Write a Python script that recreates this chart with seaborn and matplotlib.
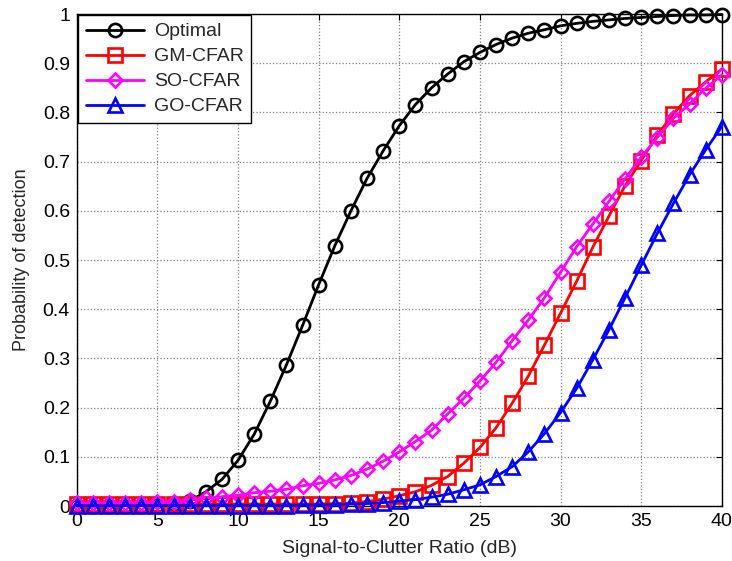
import numpy as np
import pandas as pd
import matplotlib
matplotlib.use("Agg")
import matplotlib.pyplot as plt
import seaborn as sns

snr = list(range(0, 41))
optimal = [0.0, 0.0, 0.0, 0.001, 0.001, 0.002, 0.004, 0.010, 0.029, 0.054, 0.093,
           0.146, 0.213, 0.287, 0.367, 0.450, 0.529, 0.600, 0.666, 0.722, 0.773,
           0.816, 0.850, 0.878, 0.903, 0.922, 0.938, 0.951, 0.961, 0.968, 0.976,
           0.981, 0.985, 0.988, 0.991, 0.993, 0.995, 0.997, 0.998, 0.998, 0.999]
gm_cfar = [0.004, 0.004, 0.004, 0.004, 0.004, 0.004, 0.004, 0.004, 0.004, 0.004, 0.004,
           0.004, 0.004, 0.004, 0.004, 0.004, 0.005, 0.006, 0.009, 0.014, 0.021,
           0.029, 0.042, 0.060, 0.087, 0.119, 0.159, 0.209, 0.264, 0.327, 0.392,
           0.457, 0.526, 0.589, 0.651, 0.702, 0.754, 0.797, 0.834, 0.862, 0.888]
so_cfar = [0.006, 0.006, 0.006, 0.007, 0.007, 0.008, 0.009, 0.012, 0.016, 0.019, 0.022,
           0.027, 0.030, 0.034, 0.041, 0.046, 0.053, 0.062, 0.075, 0.091, 0.110,
           0.131, 0.154, 0.187, 0.219, 0.254, 0.292, 0.336, 0.378, 0.423, 0.475,
           0.527, 0.573, 0.619, 0.665, 0.709, 0.749, 0.788, 0.817, 0.849, 0.876]
go_cfar = [0.001, 0.001, 0.001, 0.001, 0.001, 0.001, 0.001, 0.001, 0.001, 0.001, 0.001,
           0.001, 0.001, 0.001, 0.002, 0.002, 0.003, 0.004, 0.005, 0.007, 0.010,
           0.013, 0.018, 0.024, 0.033, 0.043, 0.060, 0.080, 0.110, 0.147, 0.190,
           0.239, 0.297, 0.358, 0.423, 0.489, 0.554, 0.615, 0.673, 0.724, 0.771]

series_names = ["Optimal", "GM-CFAR", "SO-CFAR", "GO-CFAR"]
series_vals = [optimal, gm_cfar, so_cfar, go_cfar]
colors = ["black", "#ff0000", "#ff00ff", "#0000ff"]
markers = ["o", "s", "D", "^"]
msizes = [9.5, 9.5, 7.5, 10]

x_ticks = list(range(0, 41, 5))
y_ticks = [0, 0.1, 0.2, 0.3, 0.4, 0.5, 0.6, 0.7, 0.8, 0.9, 1]
y_tick_labels = ["0", "0.1", "0.2", "0.3", "0.4", "0.5", "0.6", "0.7", "0.8", "0.9", "1"]

sns.set_style("white")
plt.rcParams["font.family"] = ["Liberation Sans", "DejaVu Sans"]

fig = plt.figure(figsize=(7.32, 5.61), dpi=100)
ax = fig.add_axes([0.105, 0.098, 0.881, 0.877])

for name, vals, c, m, ms in zip(series_names, series_vals, colors, markers, msizes):
    df = pd.DataFrame({"snr": snr, "pd": vals})
    sns.lineplot(data=df, x="snr", y="pd", ax=ax, color=c, linewidth=2,
                 marker=m, markersize=ms, markerfacecolor="none",
                 markeredgecolor=c, markeredgewidth=1.9, label=name,
                 clip_on=False, zorder=3)

ax.set_xlim(0, 40)
ax.set_ylim(0, 1)
ax.set_xticks(x_ticks)
ax.set_yticks(y_ticks)
ax.set_yticklabels(y_tick_labels)
ax.grid(True, color="#808080", linestyle=":", linewidth=0.9)
ax.set_axisbelow(True)
ax.tick_params(direction="in", top=True, right=True, length=4, labelsize=14,
               colors="black", pad=5)
for s in ax.spines.values():
    s.set_color("black")
    s.set_linewidth(1.0)
    s.set_zorder(2.5)
ax.set_xlabel("Signal-to-Clutter Ratio (dB)", fontsize=14, labelpad=7)
ax.set_ylabel("Probability of detection", fontsize=13, labelpad=9)

leg = ax.legend(loc="upper left", fontsize=14, frameon=True, fancybox=False,
                edgecolor="black", framealpha=1, borderaxespad=0.05,
                handlelength=3.0, labelspacing=0.38, borderpad=0.4,
                handletextpad=0.5)
leg.get_frame().set_linewidth(1.0)
leg.set_zorder(5)

fig.savefig("out.png", dpi=100)
